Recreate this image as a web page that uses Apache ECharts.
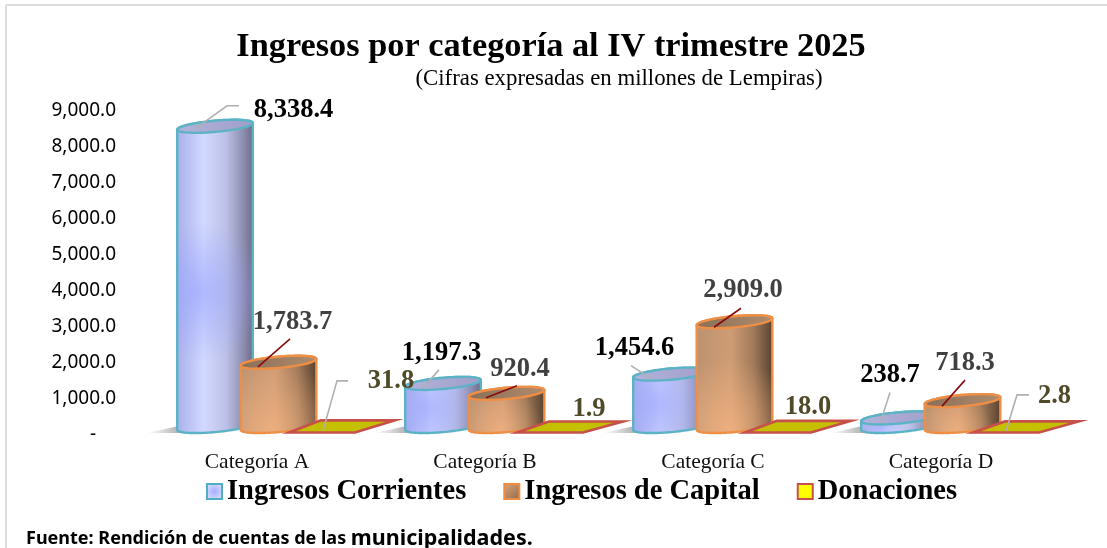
<!DOCTYPE html>
<html>
<head>
<meta charset="utf-8">
<title>Ingresos por categoría</title>
<script src="https://cdn.jsdelivr.net/npm/echarts@6/dist/echarts.min.js"></script>
<style>
	html, body { margin: 0; padding: 0; background: #fff; }
	#main { width: 1107px; height: 548px; }
</style>
</head>
<body>
<div id="main"></div>
<script>
	var categories = ['Categoría A', 'Categoría B', 'Categoría C', 'Categoría D'];
	var corrientes = [8338.4, 1197.3, 1454.6, 238.7];
	var capital = [1783.7, 920.4, 2909.0, 718.3];
	var donaciones = [31.8, 1.9, 18.0, 2.8];

	// label position relative to the top of each column, in px
	var corrLabelPos = [[78.5, -23], [-1.5, -37], [-36.5, -32], [-9, -49]];
	var capLabelPos = [[14, -47], [13.5, -31], [8.5, -38], [2.5, -44]];
	var donLabelPos = [[49, -51], [19, -24], [10, -25], [28.5, -37]];

	// leader lines, same reference point
	var corrLeaders = [
		[[-20, -4], [12, -27], [24, -27]],
		[[-20, -2], [-4, -20]],
		[[-20, -2], [-40, -15]],
		[[-19, -1], [-9, -32]]
	];
	var capLeaders = [
		[[-20.5, -2], [11.5, -30]],
		[[-20.5, -2], [10.5, -14]],
		[[-20.5, -1], [6.5, -20]],
		[[-20.5, -1], [2.5, -27]]
	];
	var donLeaders = [
		[[-19, -1], [-5, -51], [6, -51]],
		null,
		null,
		[[-20, -2], [-9, -38], [3, -38]]
	];

	var SERIF = '"Liberation Serif", serif';
	var RX = 38, RY = 5.6, TILT = -0.09, LIFT = 6.5;
	var Linear = echarts.graphic.LinearGradient;
	var Radial = echarts.graphic.RadialGradient;

	function fmt(v) {
		return v.toFixed(1).replace(/\B(?=(\d{3})+(?!\d))/g, ',');
	}

	// points of the tilted ellipse between two angles
	function arc(cx, cy, from, to) {
		var pts = [];
		for (var i = 0; i <= 48; i++) {
			var t = from + (to - from) * i / 48;
			var x = RX * Math.cos(t), y = RY * Math.sin(t);
			pts.push([cx + x * Math.cos(TILT) - y * Math.sin(TILT), cy + x * Math.sin(TILT) + y * Math.cos(TILT)]);
		}
		return pts;
	}

	function labelParts(cx, y, value, pos, leader, lineColor, textColor) {
		var parts = [];
		if (leader) {
			parts.push({
				type: 'polyline',
				shape: { points: leader.map(function (p) { return [cx + p[0], y + p[1]]; }) },
				style: { fill: null, stroke: lineColor, lineWidth: 1.6 }
			});
		}
		parts.push({
			type: 'text',
			style: {
				text: fmt(value), x: cx + pos[0], y: y + pos[1],
				align: 'center', verticalAlign: 'middle',
				fontFamily: SERIF, fontWeight: 'bold', fontSize: 26.5, fill: textColor
			}
		});
		return parts;
	}

	function cylinder(opt) {
		return function (params, api) {
			var i = api.value(0), v = api.value(1);
			var base = api.coord([i, 0]), top = api.coord([i, v]);
			var cx = base[0] + opt.offset;
			var y0 = base[1] - LIFT, y1 = top[1] - LIFT;
			var body = arc(cx, y0, 0, Math.PI).concat(arc(cx, y1, Math.PI, Math.PI * 2));
			var children = [];
			if (opt.shadow) {
				children.push({
					type: 'polygon',
					shape: { points: [[cx - 68, base[1]], [cx - 30, y0 - 2], [cx - 30, base[1]]] },
					style: { fill: new Linear(0, 0, 1, 0, [
						{ offset: 0, color: 'rgba(170,170,170,0)' },
						{ offset: 1, color: '#a0a0a0' }
					]) }
				});
			}
			children.push({
				type: 'polygon', shape: { points: body },
				style: { fill: new Linear(0, 0, 1, 0, opt.side) }
			});
			children.push({
				type: 'polygon', shape: { points: body },
				style: { fill: new Radial(opt.glowX, opt.glowY, 0.9, [
					{ offset: 0, color: opt.glow },
					{ offset: 1, color: opt.glowEnd }
				]), stroke: opt.edge, lineWidth: 2.4 }
			});
			children.push({
				type: 'polygon', shape: { points: arc(cx, y1, 0, Math.PI * 2) },
				style: { fill: new Linear(0, 0, 1, 0, opt.cap), stroke: opt.edge, lineWidth: 2.4 }
			});
			children = children.concat(labelParts(cx, top[1], v, opt.labelPos[i], opt.leaders[i], opt.lineColor, opt.textColor));
			return { type: 'group', children: children };
		};
	}

	function flatPlate(params, api) {
		var i = api.value(0), v = api.value(1);
		var base = api.coord([i, 0]), top = api.coord([i, v]);
		var cx = base[0] + 85;
		var b = base[1] - 0.5, t = top[1] - 11.5;
		var children = [{
			type: 'polygon',
			shape: { points: [[cx - 53, b], [cx + 13, b], [cx + 53, t], [cx - 21, t]] },
			style: { fill: '#c4c000', stroke: '#c8504a', lineWidth: 2.6, lineJoin: 'miter' }
		}];
		children = children.concat(labelParts(cx, top[1], v, donLabelPos[i], donLeaders[i], '#b0b0b0', '#4f4a28'));
		return { type: 'group', children: children };
	}

	function toData(values) {
		return values.map(function (v, i) { return [i, v]; });
	}

	var corrSide = [
		{ offset: 0, color: '#a9b0ea' },
		{ offset: 0.35, color: '#d2d9ff' },
		{ offset: 0.65, color: '#bcc0e6' },
		{ offset: 0.88, color: '#8b8cae' },
		{ offset: 1, color: '#6d6d88' }
	];
	var capSide = [
		{ offset: 0, color: '#bd9270' },
		{ offset: 0.45, color: '#cf9c74' },
		{ offset: 0.75, color: '#a07a5a' },
		{ offset: 1, color: '#5a4330' }
	];

	var option = {
		animation: false,
		backgroundColor: '#fff',
		title: [
			{
				text: 'Ingresos por categoría al IV trimestre 2025',
				left: 546, top: 25, textAlign: 'center',
				textStyle: { fontFamily: SERIF, fontWeight: 'bold', fontSize: 34.3, color: '#000' }
			},
			{
				text: '(Cifras expresadas en millones de Lempiras)',
				left: 614, top: 63, textAlign: 'center',
				textStyle: { fontFamily: SERIF, fontWeight: 'normal', fontSize: 22.8, color: '#000' }
			},
			{
				text: '{a|Fuente: Rendición de cuentas de las }{b|municipalidades.}',
				left: 21, top: 523,
				textStyle: {
					rich: {
						a: { fontFamily: '"Noto Sans"', fontWeight: 'bold', fontSize: 18, color: '#000' },
						b: { fontFamily: '"Noto Sans"', fontWeight: 'bold', fontSize: 21.5, color: '#000' }
					}
				}
			}
		],
		legend: {
			left: 201, top: 472,
			itemWidth: 15, itemHeight: 15, itemGap: 37,
			selectedMode: false,
			textStyle: { fontFamily: SERIF, fontWeight: 'bold', fontSize: 28.5, color: '#000' },
			data: [
				{ name: 'Ingresos Corrientes', icon: 'rect', itemStyle: {
					color: new Radial(0.5, 0.5, 0.6, [{ offset: 0, color: '#a5adff' }, { offset: 1, color: '#dfe3ff' }]),
					borderColor: '#4fafc4', borderWidth: 2
				} },
				{ name: 'Ingresos de Capital', icon: 'rect', itemStyle: {
					color: new Linear(0, 0, 1, 1, [{ offset: 0, color: '#e0a67a' }, { offset: 1, color: '#8a6a4e' }]),
					borderColor: '#f08c3c', borderWidth: 2
				} },
				{ name: 'Donaciones', icon: 'rect', itemStyle: {
					color: '#ffff00', borderColor: '#c8504a', borderWidth: 2
				} }
			]
		},
		grid: { left: 143, right: 52, top: 109, bottom: 115 },
		xAxis: {
			type: 'category',
			data: categories,
			axisLine: { show: false },
			axisTick: { show: false },
			axisLabel: { fontFamily: SERIF, fontSize: 21.5, color: '#111', margin: 18 }
		},
		yAxis: {
			type: 'value',
			min: 0, max: 9000, interval: 1000,
			axisLine: { show: false },
			axisTick: { show: false },
			splitLine: { show: false },
			axisLabel: {
				margin: 27,
				formatter: function (v) { return '{t|' + (v === 0 ? '-\u00a0\u00a0\u00a0\u00a0' : fmt(v)) + '}'; },
				rich: {
					t: { fontFamily: '"Noto Sans"', fontSize: 19, color: '#000', padding: [4, 0, 0, 0] }
				}
			}
		},
		series: [
			{
				name: 'Ingresos Corrientes', type: 'custom', z: 2,
				encode: { x: 0, y: 1 }, data: toData(corrientes),
				itemStyle: { color: '#a5adff' },
				renderItem: cylinder({
					offset: -42, side: corrSide, shadow: true,
					glow: 'rgba(150,160,255,0.6)', glowEnd: 'rgba(150,160,255,0)', glowX: 0.28, glowY: 0.55,
					edge: '#5cb3c6',
					cap: [{ offset: 0, color: '#b2b2dc' }, { offset: 1, color: '#a09fc8' }],
					labelPos: corrLabelPos, leaders: corrLeaders, lineColor: '#b0b0b0', textColor: '#000'
				})
			},
			{
				name: 'Ingresos de Capital', type: 'custom', z: 3,
				encode: { x: 0, y: 1 }, data: toData(capital),
				itemStyle: { color: '#e0a67a' },
				renderItem: cylinder({
					offset: 21.5, side: capSide,
					glow: 'rgba(245,180,130,0.75)', glowEnd: 'rgba(245,180,130,0)', glowX: 0.42, glowY: 0.95,
					edge: '#ef8f45',
					cap: [{ offset: 0, color: '#8a6f58' }, { offset: 1, color: '#b08b6c' }],
					labelPos: capLabelPos, leaders: capLeaders, lineColor: '#8b0a0a', textColor: '#404040'
				})
			},
			{
				name: 'Donaciones', type: 'custom', z: 4,
				encode: { x: 0, y: 1 }, data: toData(donaciones),
				itemStyle: { color: '#ffff00' },
				renderItem: flatPlate
			}
		],
		graphic: [
			{ type: 'line', shape: { x1: 6, y1: 5, x2: 1107, y2: 5 }, style: { stroke: '#dcdcdc', lineWidth: 2 } },
			{ type: 'line', shape: { x1: 6, y1: 5, x2: 6, y2: 548 }, style: { stroke: '#dcdcdc', lineWidth: 2 } }
		]
	};

	var myChart = echarts.init(document.getElementById('main'));
	myChart.setOption(option);
</script>
</body>
</html>
